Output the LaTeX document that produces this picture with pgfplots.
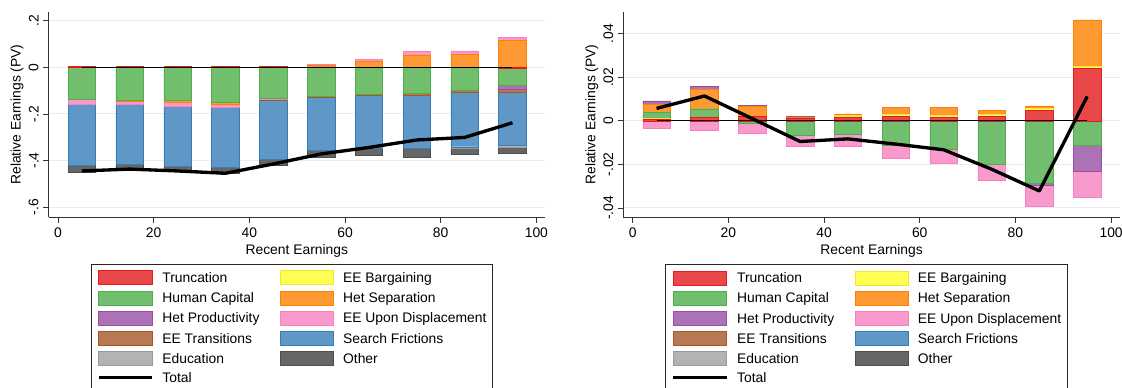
\documentclass[border=0pt]{standalone}
\usepackage{fontspec}
\setmainfont{Liberation Sans}
\usepackage{pgfplots}
\usepackage{pgfplotstable}
\pgfplotsset{compat=1.18}

\definecolor{trF}{HTML}{E9484A}\definecolor{trD}{HTML}{E41A1C}
\definecolor{eebF}{HTML}{FFFF52}\definecolor{eebD}{HTML}{F2E52E}
\definecolor{hcF}{HTML}{71BF6E}\definecolor{hcD}{HTML}{4DAF4A}
\definecolor{hsF}{HTML}{FF9933}\definecolor{hsD}{HTML}{FF7F00}
\definecolor{hpF}{HTML}{AD71B5}\definecolor{hpD}{HTML}{984EA3}
\definecolor{eeudF}{HTML}{F99ACC}\definecolor{eeudD}{HTML}{F781BF}
\definecolor{eetF}{HTML}{B87853}\definecolor{eetD}{HTML}{A65628}
\definecolor{sfF}{HTML}{5F98C6}\definecolor{sfD}{HTML}{377EB8}
\definecolor{eduF}{HTML}{B3B3B3}\definecolor{eduD}{HTML}{999999}
\definecolor{othF}{HTML}{666666}\definecolor{othD}{HTML}{4D4D4D}
\definecolor{gridC}{HTML}{E6EEF0}

% x: decile midpoint; components of relative earnings (PV); tot: total
\pgfplotstableread{
x   tr      eeb    hc      hs      hp      eeud    eet     sf      edu     oth     tot
5   0.004   0      -0.139  0       0       -0.018  0       -0.262  0       -0.032  -0.445
15  0.003   0      -0.142  -0.003  0       -0.014  0       -0.257  0       -0.025  -0.437
25  0.003   0      -0.143  -0.007  0       -0.015  0       -0.259  0       -0.024  -0.445
35  0.003   0      -0.149  -0.010  0       -0.014  0       -0.258  0       -0.024  -0.455
45  0.003   0      -0.133  0       0       -0.005  -0.004  -0.252  0       -0.028  -0.415
55  0       0      -0.126  0.007   0       0.005   -0.004  -0.228  0       -0.028  -0.372
65  0       0      -0.115  0.027   0       0.007   -0.005  -0.228  0       -0.031  -0.344
75  0       0      -0.112  0.054   0       0.015   -0.008  -0.228  0       -0.036  -0.312
85  0       0      -0.097  0.057   0       0.014   -0.012  -0.232  -0.007  -0.024  -0.301
95  -0.005  0      -0.071  0.117   -0.019  0.012   -0.010  -0.229  -0.007  -0.028  -0.238
}\leftdata

\pgfplotstableread{
x   tr      eeb     hc       hs      hp       eeud     eet  sf  edu  oth  tot
5   0.0006  0.0004  0.0030   0.0037  0.0015   -0.0034  0    0   0    0    0.0057
15  0.0017  0       0.0038   0.0092  0.0010   -0.0043  0    0   0    0    0.0114
25  0.0020  0       -0.0011  0.0045  0.0005   -0.0048  0    0   0    0    0.0010
35  0.0011  0       -0.0065  0.0006  0.0004   -0.0050  0    0   0    0    -0.0095
45  0.0018  0.0006  -0.0061  0.0008  0        -0.0056  0    0   0    0    -0.0083
55  0.0020  0.0008  -0.0112  0.0035  0        -0.0059  0    0   0    0    -0.0107
65  0.0015  0.0009  -0.0132  0.0039  0        -0.0065  0    0   0    0    -0.0133
75  0.0020  0.0009  -0.0198  0.0020  0        -0.0073  0    0   0    0    -0.0222
85  0.0048  0.0008  -0.0286  0.0013  -0.0011  -0.0093  0    0   0    0    -0.0322
95  0.0241  0.0010  -0.0114  0.0213  -0.0118  -0.0117  0    0   0    0    0.0112
}\rightdata

\newcommand{\cbar}[4]{\addplot[fill=#3,draw=#4,line width=0.35pt,forget plot] table[x=x,y=#2]{#1};}

\newcommand{\bars}[1]{%
  \cbar{#1}{tr}{trF}{trD}\cbar{#1}{eeb}{eebF}{eebD}\cbar{#1}{hc}{hcF}{hcD}%
  \cbar{#1}{hs}{hsF}{hsD}\cbar{#1}{hp}{hpF}{hpD}\cbar{#1}{eeud}{eeudF}{eeudD}%
  \cbar{#1}{eet}{eetF}{eetD}\cbar{#1}{sf}{sfF}{sfD}\cbar{#1}{edu}{eduF}{eduD}%
  \cbar{#1}{oth}{othF}{othD}%
  \addlegendimage{swatch,fill=trF,draw=trD}\addlegendentry{Truncation}
  \addlegendimage{swatch,fill=eebF,draw=eebD}\addlegendentry{EE Bargaining}
  \addlegendimage{swatch,fill=hcF,draw=hcD}\addlegendentry{Human Capital}
  \addlegendimage{swatch,fill=hsF,draw=hsD}\addlegendentry{Het Separation}
  \addlegendimage{swatch,fill=hpF,draw=hpD}\addlegendentry{Het Productivity}
  \addlegendimage{swatch,fill=eeudF,draw=eeudD}\addlegendentry{EE Upon Displacement\hspace{9.5pt}}
  \addlegendimage{swatch,fill=eetF,draw=eetD}\addlegendentry{EE Transitions}
  \addlegendimage{swatch,fill=sfF,draw=sfD}\addlegendentry{Search Frictions}
  \addlegendimage{swatch,fill=eduF,draw=eduD}\addlegendentry{Education}
  \addlegendimage{swatch,fill=othF,draw=othD}\addlegendentry{Other}
  \addlegendimage{totline,black,line width=2.2pt}\addlegendentry{Total}
}
\newcommand{\lines}[1]{%
  \addplot[black,line width=0.75pt] coordinates {(5,0) (95,0)};
  \addplot[black,line width=2.5pt,line join=round] table[x=x,y=tot]{#1};
}

\pgfplotsset{
  swatch/.style={legend image code/.code={\draw[##1,line width=0.5pt] (0pt,-5.25pt) rectangle (40pt,5.25pt);}},
  totline/.style={legend image code/.code={\draw[##1] (0pt,0pt) -- (40pt,0pt);}},
  geom/.style={scale only axis, width=372.3pt, height=154.2pt, xmin=-1.95, xmax=101.8},
  panelstyle/.style={
    geom,
    ybar stacked, bar width=5.75, stacked ignores zero,
    axis x line*=bottom, axis y line*=left,
    axis line style={black!80,line width=0.6pt},
    tick style={black!80,line width=0.6pt},
    tick align=outside, major tick length=4pt,
    scaled y ticks=false,
    xtick={0,20,40,60,80,100}, xticklabels={0,20,40,60,80,100},
    ymajorgrids, grid style={gridC,line width=0.8pt},
    tick label style={font=\fontsize{10.4}{12}\selectfont},
    label style={font=\fontsize{10.4}{12}\selectfont},
    yticklabel style={rotate=90,anchor=south},
    xlabel={Recent Earnings}, ylabel={Relative Earnings (PV)},
    xlabel style={at={(axis description cs:0.5,-0.163)},anchor=center},
    ylabel style={at={(axis description cs:-0.0637,0.5)},anchor=center},
    legend columns=2, legend cell align=left,
    legend style={font=\fontsize{10.4}{12}\selectfont, draw=black!85, line width=0.6pt,
      inner sep=4.5pt, row sep=4.1pt, anchor=north west,
      nodes={inner xsep=0pt, inner ysep=0pt, text height=8.7pt, text depth=1.3pt},
      /tikz/every odd column/.append style={column sep=6.75pt},
      /tikz/every even column/.append style={column sep=15.5pt}},
  },
  linestyle/.style={geom, hide axis},
}

\begin{document}
\begin{tikzpicture}
\useasboundingbox (0,0) rectangle (841.5pt,290.25pt);
% left panel
\begin{axis}[panelstyle, at={(36.45pt,127.28pt)}, anchor=south west,
  ymin=-0.644, ymax=0.239,
  ytick={-0.6,-0.4,-0.2,0,0.2}, yticklabels={-.6,-.4,-.2,0,.2},
  legend style={at={(0.0848,-0.2271)}}]
\bars{\leftdata}
\end{axis}
\begin{axis}[linestyle, at={(36.45pt,127.28pt)}, anchor=south west,
  ymin=-0.644, ymax=0.239]
\lines{\leftdata}
\end{axis}
% right panel
\begin{axis}[panelstyle, at={(467.5pt,127.28pt)}, anchor=south west,
  ymin=-0.0443, ymax=0.0501,
  ytick={-0.04,-0.02,0,0.02,0.04}, yticklabels={-.04,-.02,0,.02,.04},
  legend style={at={(0.0849,-0.228)}}]
\bars{\rightdata}
\end{axis}
\begin{axis}[linestyle, at={(467.5pt,127.28pt)}, anchor=south west,
  ymin=-0.0443, ymax=0.0501]
\lines{\rightdata}
\end{axis}
\end{tikzpicture}
\end{document}
